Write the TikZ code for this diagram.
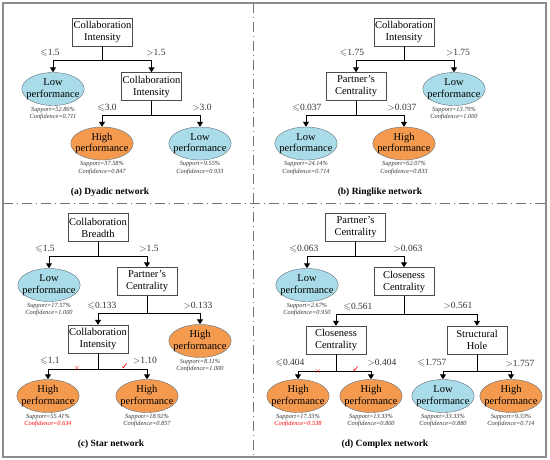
\documentclass[tikz,border=0pt]{standalone}
\usepackage{amssymb}
\usepackage{fontspec}
\setmainfont{Liberation Serif}
\newfontfamily\markfont{DejaVu Sans}
\usetikzlibrary{positioning,arrows.meta,shapes.geometric}

\definecolor{lowblue}{HTML}{A9DCE8}
\definecolor{highorange}{HTML}{F49A4F}
\definecolor{rimgray}{HTML}{5E6E7C}

\begin{document}
\begin{tikzpicture}[
    x = 1pt, y = -1pt,
    split/.style = {draw = black!70, fill = white, align = center, inner sep = 1pt,
                    minimum width = 60pt, minimum height = 28pt, font = \fontsize{10.5}{12}\selectfont},
    low/.style = {ellipse, draw = rimgray, fill = lowblue, align = center, inner xsep = -4.5pt, inner ysep = 0.5pt,
                  minimum width = 61pt, minimum height = 33pt, font = \fontsize{10.5}{11.5}\selectfont},
    high/.style = {low, fill = highorange},
    cond/.style = {font = \fontsize{9.5}{10}\selectfont, text = black!80},
    stat/.style = {font = \fontsize{6.3}{7.8}\selectfont\itshape, align = center, inner sep = 1pt, text = black!80},
    caption/.style = {font = \fontsize{9.5}{11}\selectfont\bfseries},
    edge/.style = {line width = 1pt, -{Triangle[length = 5pt, width = 6pt]}},
    cross/.style = {text = red, font = \fontsize{8}{8}\selectfont},
    tick/.style = {text = red, font = \fontsize{9}{9}\selectfont\markfont}]

\useasboundingbox (0,0) rectangle (550,460);
\draw[black!45, line width = 1.5pt] (3,3) rectangle (546,457);
\draw[black!55, line width = 1pt, dash pattern = on 10pt off 4pt on 1pt off 4pt]
      (253,3) -- (253,457)
      (3,204) -- (546,204);

% (a) dyadic
\node[split] (a1) at (102.5,32) {Collaboration\\Intensity};
\node[low] (a2) at (53,89) {Low\\performance};
\node[split] (a3) at (151.5,86.5) {Collaboration\\Intensity};
\node[high] (a4) at (102,143.5) {High\\performance};
\node[low] (a5) at (200,143.5) {Low\\performance};
\draw[edge] (a1.south) -- ++(0,14) -| (a2.north);
\draw[edge] (a1.south) -- ++(0,14) -| (a3.north);
\draw[edge] (a3.south) -- ++(0,15) -| (a4.north);
\draw[edge] (a3.south) -- ++(0,15) -| (a5.north);
\path (50,53) node[cond] (a1l) {$\leqslant$1.5}
      (156,53) node[cond] (a1r) {$>$1.5}
      (107,108) node[cond] (a3l) {$\leqslant$3.0}
      (202,108) node[cond] (a3r) {$>$3.0};
\node[stat, below = 0pt of a2] (a2s) {Support=52.86\%\\Confidence=0.711};
\node[stat, below = 0pt of a4] (a4s) {Support=37.58\%\\Confidence=0.847};
\node[stat, below = 0pt of a5] (a5s) {Support=9.55\%\\Confidence=0.933};
\node[caption] (acap) at (110,192) {(a) Dyadic network};

% (b) ringlike
\node[split] (b1) at (404,32) {Collaboration\\Intensity};
\node[split] (b2) at (356,86.5) {Partner's\\Centrality};
\node[low] (b3) at (454,89) {Low\\performance};
\node[low] (b4) at (306,143.5) {Low\\performance};
\node[high] (b5) at (404,143.5) {High\\performance};
\draw[edge] (b1.south) -- ++(0,14) -| (b2.north);
\draw[edge] (b1.south) -- ++(0,14) -| (b3.north);
\draw[edge] (b2.south) -- ++(0,15) -| (b4.north);
\draw[edge] (b2.south) -- ++(0,15) -| (b5.north);
\path (352,53) node[cond] (b1l) {$\leqslant$1.75}
      (458,53) node[cond] (b1r) {$>$1.75}
      (307,108) node[cond] (b2l) {$\leqslant$0.037}
      (402,108) node[cond] (b2r) {$>$0.037};
\node[stat, below = 0pt of b3] (b3s) {Support=13.79\%\\Confidence=1.000};
\node[stat, below = 0pt of b4] (b4s) {Support=24.14\%\\Confidence=0.714};
\node[stat, below = 0pt of b5] (b5s) {Support=62.07\%\\Confidence=0.833};
\node[caption] (bcap) at (380,192) {(b) Ringlike network};

% (c) star
\node[split] (c1) at (98,227.5) {Collaboration\\Breadth};
\node[low] (c2) at (49,285) {Low\\performance};
\node[split] (c3) at (147,281.5) {Partner's\\Centrality};
\node[split] (c4) at (98,339) {Collaboration\\Intensity};
\node[high] (c5) at (200,341) {High\\performance};
\node[high] (c6) at (48,396) {High\\performance};
\node[high] (c7) at (147,396) {High\\performance};
\draw[edge] (c1.south) -- ++(0,15) -| (c2.north);
\draw[edge] (c1.south) -- ++(0,15) -| (c3.north);
\draw[edge] (c3.south) -- ++(0,18) -| (c4.north);
\draw[edge] (c3.south) -- ++(0,18) -| (c5.north);
\draw[edge] (c4.south) -- ++(0,16) -| (c6.north);
\draw[edge] (c4.south) -- ++(0,16) -| (c7.north);
\path (45,249) node[cond] (c1l) {$\leqslant$1.5}
      (149,249) node[cond] (c1r) {$>$1.5}
      (102,306) node[cond] (c3l) {$\leqslant$0.133}
      (198,306) node[cond] (c3r) {$>$0.133}
      (50,361) node[cond] (c4l) {$\leqslant$1.1}
      (145,361) node[cond] (c4r) {$>$1.10}
      (77,368) node[cross] (c4x) {$\times$}
      (125,367) node[tick] (c4v) {✓};
\node[stat, below = 0pt of c2] (c2s) {Support=17.57\%\\Confidence=1.000};
\node[stat, below = 0pt of c5] (c5s) {Support=8.11\%\\Confidence=1.000};
\node[stat, below = 0pt of c6] (c6s) {Support=55.41\%\\\textcolor{red}{Confidence=0.634}};
\node[stat, below = 0pt of c7] (c7s) {Support=18.92\%\\Confidence=0.857};
\node[caption] (ccap) at (111,444) {(c) Star network};

% (d) complex
\node[split] (d1) at (355.5,227.5) {Partner's\\Centrality};
\node[low] (d2) at (307,285) {Low\\performance};
\node[split] (d3) at (404,281.5) {Closeness\\Centrality};
\node[split] (d4) at (336,340) {Closeness\\Centrality};
\node[split] (d5) at (477,340) {Structural\\Hole};
\node[high] (d6) at (298,396) {High\\performance};
\node[high] (d7) at (371,396) {High\\performance};
\node[low] (d8) at (443,396) {Low\\performance};
\node[high] (d9) at (511,396) {High\\performance};
\draw[edge] (d1.south) -- ++(0,15) -| (d2.north);
\draw[edge] (d1.south) -- ++(0,15) -| (d3.north);
\draw[edge] (d3.south) -- ++(0,19) -| (d4.north);
\draw[edge] (d3.south) -- ++(0,19) -| (d5.north);
\draw[edge] (d4.south) -- ++(0,17) -| (d6.north);
\draw[edge] (d4.south) -- ++(0,17) -| (d7.north);
\draw[edge] (d5.south) -- ++(0,17) -| (d8.north);
\draw[edge] (d5.south) -- ++(0,17) -| (d9.north);
\path (304,249) node[cond] (d1l) {$\leqslant$0.063}
      (408,249) node[cond] (d1r) {$>$0.063}
      (358,307) node[cond] (d3l) {$\leqslant$0.561}
      (458,306) node[cond] (d3r) {$>$0.561}
      (290,363) node[cond] (d4l) {$\leqslant$0.404}
      (382,363) node[cond] (d4r) {$>$0.404}
      (432,363) node[cond] (d5l) {$\leqslant$1.757}
      (520,364) node[cond] (d5r) {$>$1.757}
      (318,371) node[cross] (d4x) {$\times$}
      (356,370) node[tick] (d4v) {✓};
\node[stat, below = 0pt of d2] (d2s) {Support=2.67\%\\Confidence=0.950};
\node[stat, below = 0pt of d6] (d6s) {Support=17.33\%\\\textcolor{red}{Confidence=0.538}};
\node[stat, below = 0pt of d7] (d7s) {Support=13.33\%\\Confidence=0.800};
\node[stat, below = 0pt of d8] (d8s) {Support=33.33\%\\Confidence=0.880};
\node[stat, below = 0pt of d9] (d9s) {Support=9.33\%\\Confidence=0.714};
\node[caption] (dcap) at (385,444) {(d) Complex network};
\end{tikzpicture}
\end{document}
